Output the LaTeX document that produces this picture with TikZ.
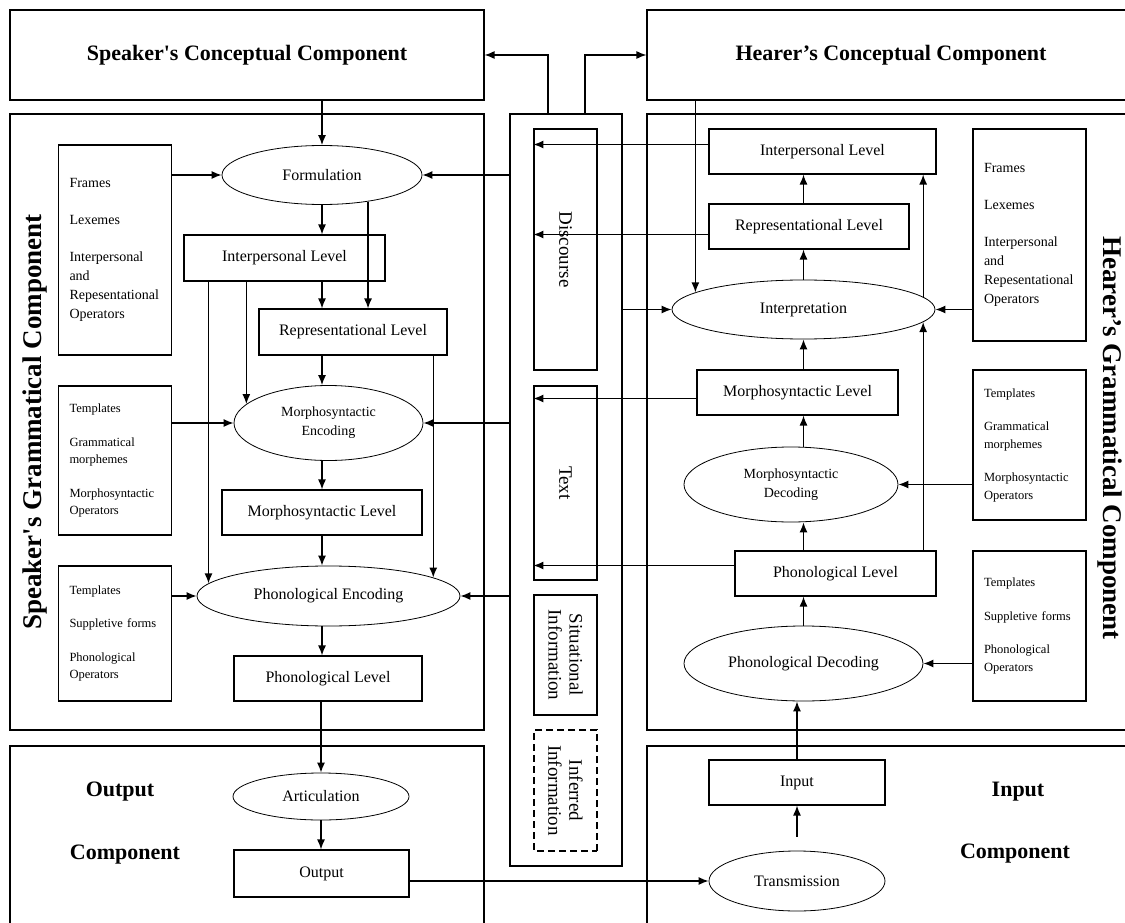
\documentclass[tikz,border=0pt]{standalone}
\usepackage{fontspec}
\setmainfont{Liberation Serif}
\usetikzlibrary{arrows,arrows.meta,shapes,positioning}

\begin{document}
\begin{tikzpicture}[x=1pt,y=-1pt,
    comp/.style={draw, rectangle, inner sep=0pt, line width=1.1pt},
    title/.style={font=\bfseries\fontsize{22}{26}\selectfont},
    side/.style={font=\bfseries\fontsize{27}{30}\selectfont},
    level/.style={draw, rectangle, inner sep=0pt, line width=1.1pt, font=\fontsize{16}{18}\selectfont},
    proc/.style={draw, ellipse, inner sep=0pt, line width=0.8pt, align=center, font=\fontsize{16}{18}\selectfont},
    store/.style={draw, rectangle, line width=1.1pt, align=left, text width=91pt, inner xsep=11pt, inner ysep=0pt, minimum width=113pt},
    lex/.style={store, font=\fontsize{14}{19}\selectfont},
    gram/.style={store, font=\fontsize{12.5}{17.5}\selectfont},
    ctxbox/.style={draw, rectangle, inner sep=0pt, line width=1.1pt, rotate=-90, align=center, font=\fontsize{19}{21}\selectfont},
    arr/.style={-{Latex[length=10pt,width=8pt]}, line width=1.3pt}]
    \clip (0,0) rectangle (1125,923);
    % components
    \node[comp, title, minimum width=474, minimum height=90] (spkcc) at (247,55) {Speaker\textquotesingle s Conceptual Component};
    \node[comp, title, minimum width=488, minimum height=90] (hrcc) at (891,55) {Hearer’s Conceptual Component};
    \node[comp, minimum width=474, minimum height=616] (spkgc) at (247,422) {};
    \node[comp, minimum width=488, minimum height=616] (hrgc) at (891,422) {};
    \node[comp, minimum width=474, minimum height=189] (outc) at (247,840.5) {};
    \node[comp, minimum width=488, minimum height=189] (inc) at (891,840.5) {};
    \node[side, rotate=90] (spklbl) at (35,422) {Speaker\textquotesingle s Grammatical Component};
    \node[side, rotate=-90] (hrlbl) at (1110,438) {Hearer’s Grammatical Component};
    \node[title] (outlbl) at (120,792) {Output};
    \node[title] (outcmp) at (125,855) {Component};
    \node[title] (inlbl) at (1018,792) {Input};
    \node[title] (incmp) at (1015,854) {Component};
    % contextual component
    \node[comp, minimum width=112, minimum height=752] (ctx) at (566,490) {};
    \node[ctxbox, minimum width=241, minimum height=63] (disc) at (565.5,249.5) {Discourse};
    \node[ctxbox, minimum width=194, minimum height=63] (txt) at (565.5,483) {Text};
    \node[ctxbox, minimum width=120, minimum height=63] (sit) at (565.5,655) {Situational\\Information};
    \node[ctxbox, dash pattern=on 7pt off 4pt, minimum width=121, minimum height=63] (inf) at (565.5,790.5) {Inferred\\Information};
    % speaker side
    \node[lex, minimum height=210] (sframes) at (115,250) {Frames\\[18pt]Lexemes\\[18pt]Interpersonal\\and\\Repesentational\\Operators};
    \node[gram, minimum height=149] (stmpl1) at (115,460.5) {Templates\\[16pt]Grammatical\\morphemes\\[16pt]Morphosyntactic\\Operators};
    \node[gram, minimum height=135] (stmpl2) at (115,633.5) {Templates\\[16pt]Suppletive forms\\[16pt]Phonological\\Operators};
    \node[proc, minimum width=200, minimum height=59] (form) at (322,175) {Formulation};
    \node[level, minimum width=201, minimum height=46] (sIL) at (284.5,258) {Interpersonal Level};
    \node[level, minimum width=188, minimum height=46] (sRL) at (353,332) {Representational Level};
    \node[proc, font=\fontsize{14}{19}\selectfont, minimum width=189, minimum height=75] (sME) at (328.5,423) {Morphosyntactic\\Encoding};
    \node[level, minimum width=200, minimum height=45] (sML) at (322,512.5) {Morphosyntactic Level};
    \node[proc, minimum width=263, minimum height=60] (sPE) at (328.5,596) {Phonological Encoding};
    \node[level, minimum width=188, minimum height=45] (sPL) at (328,678.5) {Phonological Level};
    \node[proc, minimum width=176, minimum height=47] (artic) at (321,796.5) {Articulation};
    \node[level, minimum width=175, minimum height=47] (outp) at (321.5,873.5) {Output};
    % hearer side
    \node[level, minimum width=227, minimum height=45] (hIL) at (822.5,151.5) {Interpersonal Level};
    \node[level, minimum width=200, minimum height=45] (hRL) at (809,226.5) {Representational Level};
    \node[proc, minimum width=263, minimum height=59] (interp) at (803.5,309.5) {Interpretation};
    \node[lex, minimum height=212] (hframes) at (1029.5,235) {Frames\\[18pt]Lexemes\\[18pt]Interpersonal\\and\\Repesentational\\Operators};
    \node[level, minimum width=201, minimum height=45] (hML) at (797.5,392.5) {Morphosyntactic Level};
    \node[proc, font=\fontsize{14}{19}\selectfont, minimum width=214, minimum height=75] (mdec) at (791,484.5) {Morphosyntactic\\Decoding};
    \node[gram, minimum height=150] (htmpl1) at (1029.5,445) {Templates\\[16pt]Grammatical\\morphemes\\[16pt]Morphosyntactic\\Operators};
    \node[level, minimum width=201, minimum height=45] (hPL) at (835.5,573.5) {Phonological Level};
    \node[proc, minimum width=239, minimum height=75] (pdec) at (803.5,663.5) {Phonological Decoding};
    \node[gram, minimum height=150] (htmpl2) at (1029.5,626) {Templates\\[16pt]Suppletive forms\\[16pt]Phonological\\Operators};
    \node[level, minimum width=176, minimum height=45] (inp) at (797,782.5) {Input};
    \node[proc, minimum width=176, minimum height=60] (trans) at (797,881) {Transmission};
    % connectors, context
    \draw[arr] ([xshift=-18pt]ctx.north) |- (spkcc.east);
    \draw[arr] ([xshift=19pt]ctx.north) |- (hrcc.west);
    % connectors, speaker
    \draw[arr] (spkcc.south -| form.north) -- (form.north);
    \draw[arr] (sframes.east |- form.west) -- (form.west);
    \draw[arr] (ctx.west |- form.east) -- (form.east);
    \draw[arr] (form.south) -- (form.south |- sIL.north);
    \draw[arr] (form.south |- sIL.south) -- (form.south |- sRL.north);
    \draw[arr] (form.-30) -- (form.-30 |- sRL.north);
    \draw[arr] (sPE.174 |- sIL.south) -- (sPE.174);
    \draw[arr] (sME.167 |- sIL.south) -- (sME.167);
    \draw[arr] (form.south |- sRL.south) -- (form.south |- sME.north);
    \draw[arr] (sPE.10 |- sRL.south) -- (sPE.10);
    \draw[arr] (stmpl1.east |- sME.west) -- (sME.west);
    \draw[arr] (ctx.west |- sME.east) -- (sME.east);
    \draw[arr] (form.south |- sME.south) -- (form.south |- sML.north);
    \draw[arr] (sML.south) -- (sML.south |- sPE.north);
    \draw[arr] (stmpl2.east |- sPE.west) -- (sPE.west);
    \draw[arr] (ctx.west |- sPE.east) -- (sPE.east);
    \draw[arr] (sML.south |- sPE.south) -- (sML.south |- sPL.north);
    \draw[arr] (sPL.south -| artic.north) -- (artic.north);
    \draw[arr] (artic.south) -- (artic.south |- outp.north);
    \draw[arr] (outp.east |- trans.west) -- (trans.west);
    % connectors, hearer
    \draw[arr] ([yshift=7pt]hIL.west) -- ([yshift=7pt]hIL.west -| disc.south);
    \draw[arr] ([yshift=-8pt]hRL.west) -- ([yshift=-8pt]hRL.west -| disc.south);
    \draw[arr] (ctx.east |- interp.west) -- (interp.west);
    \draw[arr] (hrcc.south -| interp.171) -- (interp.171);
    \draw[arr] (interp.north) -- (interp.north |- hRL.south);
    \draw[arr] (interp.north |- hRL.north) -- (interp.north |- hIL.south);
    \draw[arr] (interp.6) -- (interp.6 |- hIL.south);
    \draw[arr] (hframes.west |- interp.east) -- (interp.east);
    \draw[arr] (interp.south |- hML.north) -- (interp.south);
    \draw[arr] ([yshift=-6pt]hML.west) -- ([yshift=-6pt]hML.west -| txt.south);
    \draw[arr] (interp.south |- mdec.north) -- (interp.south |- hML.south);
    \draw[arr] (htmpl1.west |- mdec.east) -- (mdec.east);
    \draw[arr] (interp.south |- hPL.north) -- (interp.south |- mdec.south);
    \draw[arr] (interp.-6 |- hPL.north) -- (interp.-6);
    \draw[arr] ([yshift=8pt]hPL.west) -- ([yshift=8pt]hPL.west -| txt.south);
    \draw[arr] (pdec.north) -- (pdec.north |- hPL.south);
    \draw[arr] (htmpl2.west |- pdec.east) -- (pdec.east);
    \draw[arr] (inp.north) -- (inp.north |- pdec.south);
    \draw[arr] ([yshift=14pt]trans.north) -- (inp.south);
\end{tikzpicture}
\end{document}
